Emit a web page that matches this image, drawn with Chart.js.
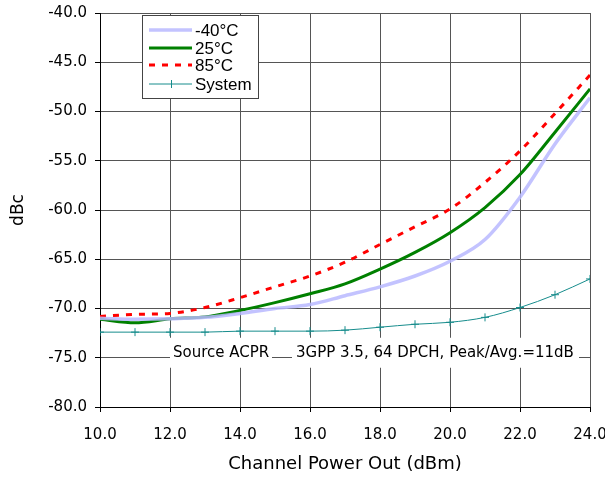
<!DOCTYPE html>
<html>
<head>
<meta charset="utf-8">
<script src="https://cdn.jsdelivr.net/npm/chart.js@4.4.1/dist/chart.umd.min.js"></script>
<style>
  html, body { margin: 0; padding: 0; background: #fff; }
  #wrap { width: 605px; height: 477px; position: relative; }
</style>
</head>
<body>
<div id="wrap"><canvas id="acpr"></canvas></div>
<script>
// Datos (ACPR vs potencia de salida)
const powerOut = [10, 11, 12, 13, 14, 15, 16, 17, 18, 19, 20, 21, 22, 23, 24];
const minus40C = [-71.0, -71.1, -71.05, -70.9, -70.5, -70.0, -69.6, -68.7, -67.8, -66.7, -65.2, -63.0, -58.7, -53.3, -48.6];
const plus25C  = [-71.1, -71.45, -71.05, -70.85, -70.2, -69.4, -68.5, -67.5, -66.0, -64.3, -62.3, -59.75, -56.4, -52.1, -47.7];
const plus85C  = [-70.8, -70.6, -70.5, -69.9, -68.9, -67.8, -66.7, -65.3, -63.5, -61.7, -59.9, -57.2, -54.0, -50.2, -46.3];
const systemAcpr = [-72.4, -72.4, -72.4, -72.4, -72.3, -72.3, -72.3, -72.2, -71.9, -71.6, -71.4, -70.9, -69.9, -68.6, -67.0];
const seriesLabels = ['-40\u00b0C', '25\u00b0C', '85\u00b0C', 'System'];
const noteLeft = 'Source ACPR';
const noteRight = '3GPP 3.5, 64 DPCH, Peak/Avg.=11dB';

const FONT = "'DejaVu Sans', sans-serif";
const LEGEND_FONT = "'Liberation Sans', Arial, sans-serif";

function toPoints(values) {
  return powerOut.map((x, i) => ({ x: x, y: values[i] }));
}

// Leyenda dibujada dentro del área de la gráfica
const boxLegend = {
  id: 'boxLegend',
  afterDraw(chart) {
    const ctx = chart.ctx;
    const x0 = 142, y0 = 15, w = 116, h = 83;
    const rows = [30, 48, 65, 84];
    ctx.save();
    ctx.fillStyle = '#fff';
    ctx.fillRect(x0, y0, w, h);
    ctx.strokeStyle = '#444';
    ctx.lineWidth = 1;
    ctx.strokeRect(x0 + 0.5, y0 + 0.5, w, h);
    ctx.font = '17px ' + LEGEND_FONT;
    ctx.textBaseline = 'middle';
    ctx.textAlign = 'left';
    chart.data.datasets.forEach((ds, i) => {
      const y = rows[i];
      ctx.beginPath();
      ctx.strokeStyle = ds.borderColor;
      ctx.lineWidth = ds.borderWidth;
      ctx.setLineDash(ds.borderDash || []);
      ctx.moveTo(x0 + 7, y);
      ctx.lineTo(x0 + 50, y);
      ctx.stroke();
      ctx.setLineDash([]);
      if (ds.pointStyle === 'cross') {
        ctx.lineWidth = 1;
        ctx.beginPath();
        ctx.moveTo(x0 + 29.5, y - 4);
        ctx.lineTo(x0 + 29.5, y + 4);
        ctx.stroke();
      }
      ctx.fillStyle = '#000';
      ctx.fillText(ds.label, x0 + 53, y + 1);
    });
    ctx.restore();
  }
};

// Cajas de texto con fondo blanco sobre la rejilla
const noteBoxes = {
  id: 'noteBoxes',
  afterDatasetsDraw(chart) {
    const ctx = chart.ctx;
    const yPx = chart.scales.y.getPixelForValue(-75);
    ctx.save();
    ctx.font = '15px ' + FONT;
    ctx.textBaseline = 'middle';
    ctx.fillStyle = '#fff';
    ctx.fillRect(170, yPx - 20, 102, 30);
    ctx.fillRect(292, yPx - 20, 287, 30);
    ctx.fillStyle = '#000';
    ctx.textAlign = 'left';
    ctx.fillText(noteLeft, 173, yPx - 5);
    ctx.fillText(noteRight, 296, yPx - 5);
    ctx.restore();
  }
};

const ctx = document.getElementById('acpr').getContext('2d');
new Chart(ctx, {
  type: 'line',
  data: {
    datasets: [
      {
        label: seriesLabels[0],
        data: toPoints(minus40C),
        borderColor: 'rgba(184, 184, 255, 0.85)',
        borderWidth: 3.5,
        pointRadius: 0,
        cubicInterpolationMode: 'monotone'
      },
      {
        label: seriesLabels[1],
        data: toPoints(plus25C),
        borderColor: '#008000',
        borderWidth: 3,
        pointRadius: 0,
        cubicInterpolationMode: 'monotone'
      },
      {
        label: seriesLabels[2],
        data: toPoints(plus85C),
        borderColor: '#ff0000',
        borderWidth: 3,
        borderDash: [6, 7],
        pointRadius: 0,
        cubicInterpolationMode: 'monotone'
      },
      {
        label: seriesLabels[3],
        data: toPoints(systemAcpr),
        borderColor: '#168c8c',
        borderWidth: 1,
        pointStyle: 'cross',
        pointRadius: 4,
        pointBorderWidth: 1,
        pointBorderColor: '#168c8c',
        cubicInterpolationMode: 'monotone'
      }
    ]
  },
  options: {
    responsive: true,
    maintainAspectRatio: false,
    animation: false,
    layout: { padding: { top: 13, right: 15, left: 0, bottom: 0 } },
    scales: {
      x: {
        type: 'linear',
        min: 10,
        max: 24,
        afterFit(scale) {
          scale.height = 70;
          scale.paddingLeft = 0;
          scale.paddingRight = 0;
        },
        ticks: {
          stepSize: 2,
          color: '#000',
          font: { family: FONT, size: 15 },
          padding: 14,
          maxRotation: 0,
          callback: v => v.toFixed(1)
        },
        grid: { color: '#555', lineWidth: 1, tickLength: 5, tickColor: '#000' },
        border: { color: '#000', width: 1 },
        title: {
          display: true,
          text: 'Channel Power Out (dBm)',
          color: '#000',
          font: { family: FONT, size: 18 },
          padding: { top: 4, bottom: 2 }
        }
      },
      y: {
        min: -80,
        max: -40,
        afterFit(scale) {
          scale.width = 100;
          scale.paddingTop = 0;
          scale.paddingBottom = 0;
        },
        ticks: {
          stepSize: 5,
          color: '#000',
          font: { family: FONT, size: 15 },
          padding: 8,
          callback: v => v.toFixed(1)
        },
        grid: { color: '#555', lineWidth: 1, tickLength: 5, tickColor: '#000' },
        border: { color: '#000', width: 1 },
        title: {
          display: true,
          text: 'dBc',
          color: '#000',
          font: { family: FONT, size: 17 },
          padding: { top: 8, bottom: 4 }
        }
      }
    },
    plugins: {
      legend: { display: false },
      tooltip: { enabled: false }
    }
  },
  plugins: [noteBoxes, boxLegend]
});
</script>
</body>
</html>
